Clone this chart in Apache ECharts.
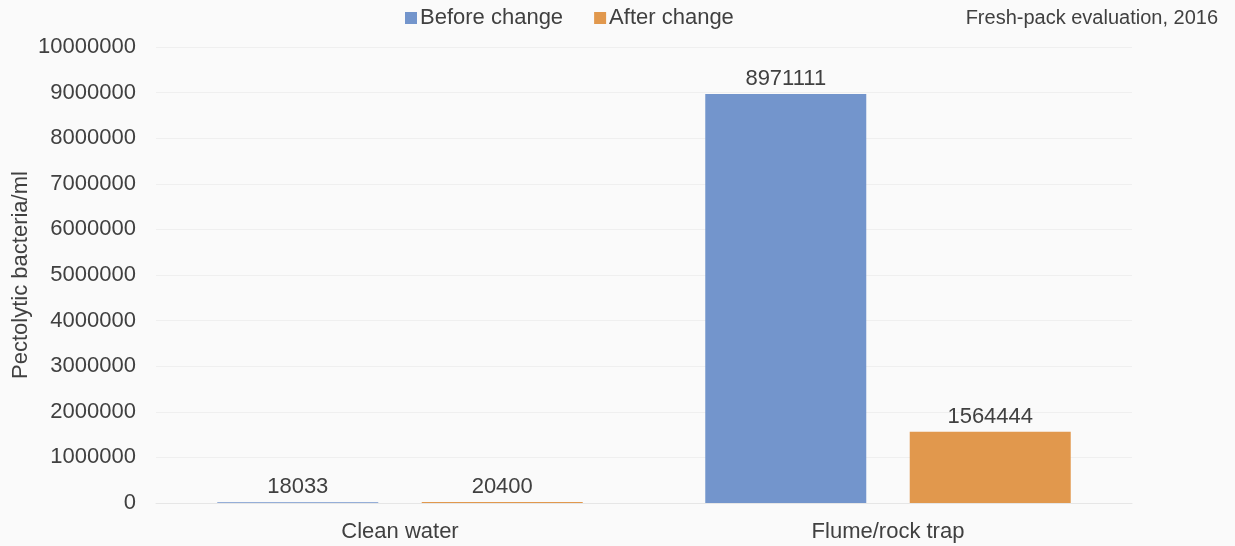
<!DOCTYPE html>
<html>
<head>
<meta charset="utf-8">
<script src="https://cdn.jsdelivr.net/npm/echarts@6/dist/echarts.min.js"></script>
<style>
html,body{margin:0;padding:0;background:#fafafa;}
#c{width:1235px;height:546px;}
</style>
</head>
<body>
<div id="c"></div>
<script>
const categories = ["Clean water", "Flume/rock trap"];
const beforeValues = [18033, 8971111];
const afterValues = [20400, 1564444];
const seriesNames = ["Before change", "After change"];

const chart = echarts.init(document.getElementById('c'));
const txt = '#404040';
const font = "'Liberation Sans', Arial, sans-serif";
chart.setOption({
  backgroundColor: '#fafafa',
  textStyle: {fontFamily: font},
  title: {
    text: 'Fresh-pack evaluation, 2016',
    right: 12, top: 3,
    textStyle: {fontSize: 20, fontWeight: 'normal', color: txt, fontFamily: font}
  },
  legend: {
    left: 400, top: 2,
    itemWidth: 12, itemHeight: 12, itemGap: 31,
    icon: 'rect',
    textStyle: {fontSize: 22, color: txt, fontFamily: font, padding: [0,0,0,-2]},
    data: seriesNames
  },
  grid: {left: 156, right: 103, top: 47, bottom: 43, containLabel: false, outerBoundsMode: 'none'},
  xAxis: {
    type: 'category',
    data: categories,
    axisTick: {show: false},
    axisLine: {lineStyle: {color: '#e6e6e6'}},
    axisLabel: {fontSize: 22, color: txt, margin: 18, fontFamily: font}
  },
  yAxis: {
    type: 'value',
    min: 0, max: 10000000, interval: 1000000,
    name: 'Pectolytic bacteria/ml',
    nameLocation: 'middle',
    nameGap: 124,
    nameMoveOverlap: false,
    nameTextStyle: {fontSize: 22, color: txt, fontFamily: font},
    axisLine: {show: false},
    axisTick: {show: false},
    splitLine: {lineStyle: {color: '#efefef'}},
    axisLabel: {fontSize: 22, color: txt, margin: 20, fontFamily: font, formatter: v => String(v)}
  },
  series: [
    {
      name: seriesNames[0], type: 'bar', data: beforeValues,
      barWidth: 161, barGap: '27%',
      itemStyle: {color: '#7395cc'},
      label: {show: true, position: 'top', distance: 4, fontSize: 22, color: txt, fontFamily: font}
    },
    {
      name: seriesNames[1], type: 'bar', data: afterValues,
      barWidth: 161,
      itemStyle: {color: '#e1984d'},
      label: {show: true, position: 'top', distance: 4, fontSize: 22, color: txt, fontFamily: font}
    }
  ]
});
</script>
</body>
</html>
